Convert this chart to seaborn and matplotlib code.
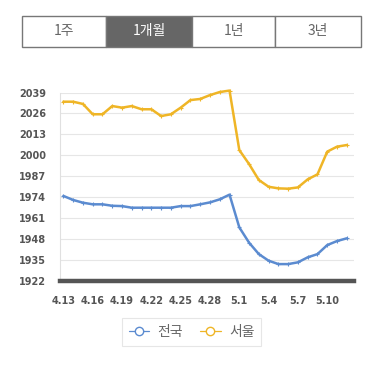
import pandas as pd
import matplotlib.pyplot as plt
import seaborn as sns
from matplotlib.lines import Line2D
from matplotlib.patches import Rectangle

# 날짜 (1개월)
dates = ["4.13", "4.14", "4.15", "4.16", "4.17", "4.18", "4.19", "4.20", "4.21", "4.22",
         "4.23", "4.24", "4.25", "4.26", "4.27", "4.28", "4.29", "4.30", "5.1", "5.2",
         "5.3", "5.4", "5.5", "5.6", "5.7", "5.8", "5.9", "5.10", "5.11", "5.12"]

nation = [1974.8, 1972.3, 1970.6, 1969.6, 1969.6, 1968.7, 1968.5, 1967.5, 1967.5, 1967.5,
          1967.5, 1967.5, 1968.5, 1968.5, 1969.6, 1970.8, 1972.7, 1975.6, 1955.3, 1945.8,
          1938.7, 1934.6, 1932.5, 1932.5, 1933.6, 1936.7, 1938.7, 1944.3, 1946.8, 1948.5]

seoul = [2033.3, 2033.3, 2031.9, 2025.5, 2025.5, 2030.6, 2029.6, 2030.6, 2028.6, 2028.6,
         2024.4, 2025.5, 2029.6, 2034.3, 2035.0, 2037.4, 2039.3, 2040.2, 2003.3, 1994.6,
         1984.7, 1980.5, 1979.5, 1979.3, 1980.1, 1985.1, 1988.2, 2002.3, 2005.4, 2006.4]

yticks = [1922, 1935, 1948, 1961, 1974, 1987, 2000, 2013, 2026, 2039]
tabs = ["1주", "1개월", "1년", "3년"]
selected = "1개월"

blue = "#5b8bd0"
gold = "#efb526"

df = pd.DataFrame({
    "idx": list(range(len(dates))) * 2,
    "value": nation + seoul,
    "region": ["전국"] * len(dates) + ["서울"] * len(dates),
})

sns.set_style("white")
plt.rcParams["font.family"] = ["Noto Sans CJK KR", "DejaVu Sans"]

fig = plt.figure(figsize=(3.86, 3.68), dpi=100)
ax = fig.add_axes([0.1554, 0.2364, 0.762, 0.5122])

sns.lineplot(data=df, x="idx", y="value", hue="region",
             palette={"전국": blue, "서울": gold}, linewidth=1.8,
             marker="+", markersize=3.5, markeredgewidth=0.8,
             legend=False, ax=ax)
for ln in ax.lines:
    ln.set_clip_on(False)
    ln.set_markeredgecolor(ln.get_color())

ax.set_xlim(-0.35, 29.75)
ax.set_ylim(1922, 2039)
ax.set_yticks(yticks)
ax.set_xticks(range(0, len(dates), 3))
ax.set_xticklabels(dates[::3])
ax.set_xlabel("")
ax.set_ylabel("")
ax.grid(axis="y", color="#e6e6e6", linewidth=0.8)
ax.set_axisbelow(True)

for s in ["top", "right"]:
    ax.spines[s].set_visible(False)
ax.spines["left"].set_color("#e0e0e0")
ax.spines["left"].set_linewidth(0.8)
ax.spines["bottom"].set_color("#555555")
ax.spines["bottom"].set_linewidth(3.2)
ax.spines["bottom"].set_zorder(5)

ax.tick_params(axis="y", length=0, pad=10, labelsize=7, labelcolor="#555555")
ax.tick_params(axis="x", length=0, pad=11, labelsize=7, labelcolor="#555555")
for lab in ax.get_xticklabels() + ax.get_yticklabels():
    lab.set_fontweight("bold")
    lab.set_family(["DejaVu Sans"])

# 상단 탭
W, H = 386, 368
left, right, top, bottom = 22, 361, 16, 47
edges = [left, 106, 192, 275, right]
for i, t in enumerate(tabs):
    x0, x1 = edges[i], edges[i + 1]
    sel = t == selected
    fig.patches.append(Rectangle((x0 / W, 1 - bottom / H), (x1 - x0) / W, (bottom - top) / H,
                                 transform=fig.transFigure, facecolor="#666666" if sel else "white",
                                 edgecolor="#777777", linewidth=1))
    fig.text((x0 + x1) / 2 / W, 1 - (top + bottom) / 2 / H, t, ha="center", va="center",
             fontsize=10, color="white" if sel else "#666666")

# 범례
handles = [Line2D([], [], color=blue, marker="o", markerfacecolor="white", markersize=6, linewidth=0.9),
           Line2D([], [], color=gold, marker="o", markerfacecolor="white", markersize=6, linewidth=0.9)]
leg = fig.legend(handles, ["전국", "서울"], loc="center", bbox_to_anchor=(191.5 / W, 1 - 332 / H),
                 ncol=2, frameon=True, fancybox=False, fontsize=10, handlelength=1.5,
                 columnspacing=1.2, handletextpad=0.6, borderpad=0.5)
leg.get_frame().set_edgecolor("#e0e0e0")
leg.get_frame().set_linewidth(0.8)
for txt in leg.get_texts():
    txt.set_color("#666666")

fig.savefig("out.png", dpi=100)
